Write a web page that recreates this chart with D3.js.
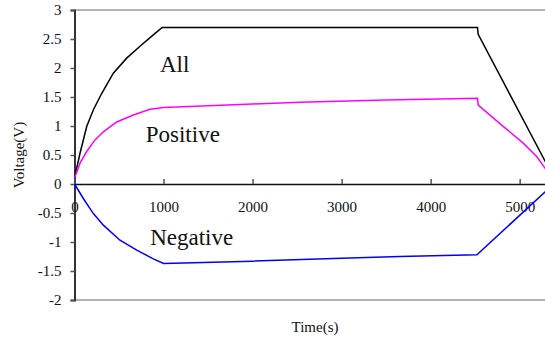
<!DOCTYPE html>
<html>
<head>
<meta charset="utf-8">
<script src="https://cdn.jsdelivr.net/npm/d3@7"></script>
<style>
  html, body { margin: 0; padding: 0; background: #fff; }
  svg { display: block; }
  svg text { font-family: "Liberation Serif", "DejaVu Serif", serif; fill: #111; }
</style>
</head>
<body>
<div id="chart"></div>
<script>
// values (time in s, voltage in V)
const allT = [0, 62, 137, 212, 305, 436, 586, 755, 885, 985, 4526, 4534, 5290];
const allV = [0.1, 0.53, 0.99, 1.28, 1.56, 1.91, 2.17, 2.40, 2.57, 2.70, 2.70, 2.58, 0.38];

const posT = [0, 62, 137, 230, 324, 474, 661, 848, 1000, 2000, 2534, 3500, 4526, 4534, 4818, 5043, 5193, 5290];
const posV = [0.1, 0.36, 0.56, 0.76, 0.90, 1.07, 1.19, 1.29, 1.32, 1.38, 1.41, 1.45, 1.48, 1.36, 0.99, 0.70, 0.47, 0.26];

const negT = [0, 99, 212, 324, 511, 699, 885, 1000, 2000, 3000, 3657, 4520, 5290];
const negV = [0, -0.25, -0.51, -0.71, -0.97, -1.14, -1.29, -1.37, -1.33, -1.28, -1.25, -1.22, -0.13];

const xTicks = [0, 1000, 2000, 3000, 4000, 5000];
const yTicks = [-2, -1.5, -1, -0.5, 0, 0.5, 1, 1.5, 2, 2.5, 3];

const labels = [
  { text: "All", t: 960, v: 1.93 },
  { text: "Positive", t: 800, v: 0.73 },
  { text: "Negative", t: 850, v: -1.05 }
];

const W = 545, H = 339;
const svg = d3.select("#chart").append("svg")
  .attr("width", W).attr("height", H);

const x = d3.scaleLinear().domain([0, 5290]).range([74.5, 545.5]);
const y = d3.scaleLinear().domain([-2, 3]).range([300, 10]);
const fmt = d => String(d); // plain hyphen minus like the original

// frame: light gray top and bottom
svg.append("line").attr("x1", x(0)).attr("x2", W).attr("y1", y(3)).attr("y2", y(3))
  .attr("stroke", "#b4b4b4").attr("stroke-width", 2);
svg.append("line").attr("x1", x(0)).attr("x2", W).attr("y1", y(-2)).attr("y2", y(-2))
  .attr("stroke", "#b4b4b4").attr("stroke-width", 2);

// y axis
const yAxis = svg.append("g")
  .attr("transform", `translate(${x(0)},0)`)
  .call(d3.axisLeft(y).tickValues(yTicks).tickSize(4).tickFormat(fmt));
yAxis.attr("font-family", null);
yAxis.select(".domain").attr("stroke", "#333").attr("stroke-width", 2);
yAxis.selectAll(".tick line").attr("stroke", "#555").attr("stroke-width", 1.5);
yAxis.selectAll("text").attr("x", -13).style("font-size", "15px");

// x axis at v = 0, ticks pointing up
const xAxis = svg.append("g")
  .attr("transform", `translate(0,${y(0)})`)
  .call(d3.axisTop(x).tickValues(xTicks).tickSize(5).tickFormat(fmt));
xAxis.attr("font-family", null);
xAxis.select(".domain").attr("stroke", "#111").attr("stroke-width", 1.5);
xAxis.selectAll(".tick line").attr("stroke", "#555").attr("stroke-width", 1.5);
xAxis.selectAll("text").attr("y", 28).attr("dy", 0).style("font-size", "15px");

// series
const line = d3.line().x(d => x(d[0])).y(d => y(d[1]));
const series = [
  { t: allT, v: allV, color: "#000000" },
  { t: posT, v: posV, color: "#ff00ff" },
  { t: negT, v: negV, color: "#0000ff" }
];
series.forEach(s => {
  svg.append("path")
    .datum(s.t.map((t, i) => [t, s.v[i]]))
    .attr("d", line)
    .attr("fill", "none")
    .attr("stroke", s.color)
    .attr("stroke-width", 1.5);
});

// in-plot labels
svg.selectAll("text.lab").data(labels).enter().append("text")
  .attr("class", "lab")
  .attr("x", d => x(d.t))
  .attr("y", d => y(d.v))
  .style("font-size", "23px")
  .text(d => d.text);

// axis titles
svg.append("text")
  .attr("transform", `translate(24,${(y(3) + y(-2)) / 2}) rotate(-90)`)
  .attr("text-anchor", "middle")
  .style("font-size", "15px")
  .text("Voltage(V)");

svg.append("text")
  .attr("x", 315).attr("y", 332)
  .attr("text-anchor", "middle")
  .style("font-size", "15px")
  .text("Time(s)");
</script>
</body>
</html>
